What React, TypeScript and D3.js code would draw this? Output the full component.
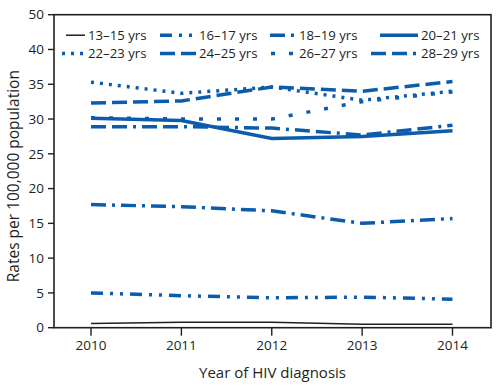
import React from 'react';
import * as d3 from 'd3';

const years = [2010, 2011, 2012, 2013, 2014];
const ageGroups = ['13–15 yrs', '16–17 yrs', '18–19 yrs', '20–21 yrs', '22–23 yrs', '24–25 yrs', '26–27 yrs', '28–29 yrs'];
const rates13to15 = [0.6, 0.8, 0.8, 0.5, 0.5];
const rates16to17 = [5.0, 4.6, 4.3, 4.4, 4.1];
const rates18to19 = [17.7, 17.4, 16.8, 15.0, 15.7];
const rates20to21 = [30.1, 29.8, 27.2, 27.5, 28.3];
const rates22to23 = [35.3, 33.7, 34.6, 32.7, 34.0];
const rates24to25 = [32.3, 32.6, 34.6, 34.0, 35.4];
const rates26to27 = [30.2, 30.0, 30.0, 32.5, 33.9];
const rates28to29 = [28.9, 28.9, 28.7, 27.7, 29.1];
// the published axis skips 45: the top tick sits where 45 would be but reads 50
const yTickValues = [0, 5, 10, 15, 20, 25, 30, 35, 40, 45];
const yTickLabels = ['0', '5', '10', '15', '20', '25', '30', '35', '40', '50'];

const BLUE = '#0b5cad';
const INK = '#231f20';
const FONT = '"Open Sans", sans-serif';

const seriesValues = [rates13to15, rates16to17, rates18to19, rates20to21, rates22to23, rates24to25, rates26to27, rates28to29];
const styles = [
  { color: INK, width: 1.5, dash: '' },
  { color: BLUE, width: 3.5, dash: '12,7,3,7,3,7' },
  { color: BLUE, width: 3.5, dash: '15,6,3,6' },
  { color: BLUE, width: 3.5, dash: '' },
  { color: BLUE, width: 3.5, dash: '3,6' },
  { color: BLUE, width: 3.5, dash: '15,6' },
  { color: BLUE, width: 3.5, dash: '4,14' },
  { color: BLUE, width: 3.5, dash: '15,6,15,6,3,6' },
];
// legend: 4 columns, 2 rows; line length per entry
const legendTextX = [88, 199, 299, 421];
const legendRowY = [35.2, 53.4];
const legendLineLen = [19, 36, 26, 38, 23, 36, 25, 47];

export default function App() {
  const width = 504;
  const height = 387;
  const plot = { left: 54, right: 491, top: 14.7, bottom: 327.7 };

  const x = d3.scaleLinear().domain([2010, 2014]).range([91, 452.5]);
  const y = d3.scaleLinear().domain([0, 45]).range([plot.bottom, plot.top]);

  const line = d3
    .line<number>()
    .x((_, i) => x(years[i]))
    .y(d => y(d));

  return (
    <svg width={width} height={height} style={{ position: 'absolute', left: 0, top: 0, background: '#fff' }}>
      {/* frame */}
      <rect
        x={plot.left}
        y={plot.top}
        width={plot.right - plot.left}
        height={plot.bottom - plot.top}
        fill="none"
        stroke={INK}
        strokeWidth={1.6}
      />
      {/* y axis */}
      {yTickValues.map((v, i) => (
        <g key={v}>
          <line x1={plot.left - 6} x2={plot.left} y1={y(v)} y2={y(v)} stroke={INK} strokeWidth={1.4} />
          <text x={plot.left - 10} y={y(v)} dy="0.35em" textAnchor="end" fontSize={13.5} fontFamily={FONT} fill={INK}>
            {yTickLabels[i]}
          </text>
        </g>
      ))}
      <text
        transform={`translate(14,${(plot.top + plot.bottom) / 2 + 5}) rotate(-90)`}
        textAnchor="middle"
        dy="0.35em"
        fontSize={15.5}
        fontFamily={FONT}
        fill={INK}
      >
        Rates per 100,000 population
      </text>
      {/* x axis */}
      {years.map(yr => (
        <g key={yr}>
          <line x1={x(yr)} x2={x(yr)} y1={plot.bottom} y2={plot.bottom + 8} stroke={INK} strokeWidth={1.4} />
          <text x={x(yr)} y={plot.bottom + 18} dy="0.35em" textAnchor="middle" fontSize={13.5} fontFamily={FONT} fill={INK}>
            {yr}
          </text>
        </g>
      ))}
      <text x={272.5} y={373} dy="0.35em" textAnchor="middle" fontSize={15} fontFamily={FONT} fill={INK}>
        Year of HIV diagnosis
      </text>
      {/* series */}
      {seriesValues.map((vals, i) => (
        <path
          key={ageGroups[i]}
          d={line(vals) ?? ''}
          fill="none"
          stroke={styles[i].color}
          strokeWidth={styles[i].width}
          strokeDasharray={styles[i].dash || undefined}
        />
      ))}
      {/* legend */}
      {ageGroups.map((name, i) => {
        const col = i % 4;
        const row = Math.floor(i / 4);
        const tx = legendTextX[col];
        const ty = legendRowY[row];
        return (
          <g key={name}>
            <line
              x1={tx - 3 - legendLineLen[i]}
              x2={tx - 3}
              y1={ty}
              y2={ty}
              stroke={styles[i].color}
              strokeWidth={styles[i].width}
              strokeDasharray={styles[i].dash || undefined}
            />
            <text x={tx} y={ty} dy="0.35em" fontSize={13.2} fontFamily={FONT} fill={INK}>
              {name}
            </text>
          </g>
        );
      })}
    </svg>
  );
}
